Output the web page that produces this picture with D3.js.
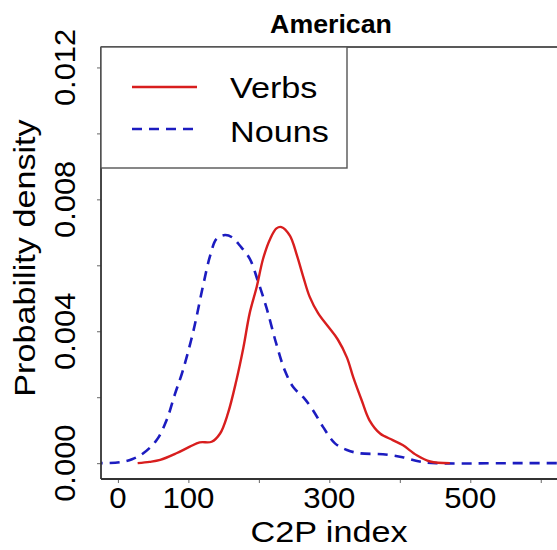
<!DOCTYPE html>
<html>
<head>
<meta charset="utf-8">
<script src="https://cdn.jsdelivr.net/npm/d3@7"></script>
<style>
  html, body { margin: 0; padding: 0; background: #fff; }
  svg { display: block; font-family: "Liberation Sans", Arial, sans-serif; }
</style>
</head>
<body>
<svg id="chart" width="557" height="550"></svg>
<script>
// ---- data ----
const chartTitle = "American";
const xTitle = "C2P index";
const yTitle = "Probability density";
const seriesNames = ["Verbs", "Nouns"];

const verbsX = [28, 45, 60, 83, 102, 116, 133, 145, 156, 168, 178, 187, 197, 206, 216, 225, 232, 244, 254, 263, 272, 284, 298, 312, 325, 334, 346, 357, 372, 390, 404, 424, 443, 471];
const verbsY = [0, 0.00004, 0.0001, 0.0003, 0.0005, 0.00063, 0.00065, 0.0009, 0.0015, 0.0025, 0.0035, 0.00455, 0.00535, 0.0062, 0.0068, 0.00712, 0.00716, 0.0069, 0.0063, 0.00565, 0.00505, 0.00455, 0.00415, 0.00375, 0.0032, 0.0026, 0.0019, 0.0013, 0.0009, 0.0007, 0.00055, 0.00024, 0.00005, 0];

const nounsX = [-60, -25, 3, 20, 36, 55, 69, 81, 92, 107, 121, 131, 140, 152, 162, 173, 187, 199, 211, 225, 237, 249, 263, 277, 291, 308, 325, 343, 376, 404, 428, 452, 560, 700];
const nounsY = [0, 0, 0.00003, 0.00012, 0.0003, 0.0007, 0.0013, 0.0021, 0.0028, 0.004, 0.0054, 0.0063, 0.0068, 0.00692, 0.00685, 0.0066, 0.0062, 0.0055, 0.0047, 0.0036, 0.0028, 0.0023, 0.002, 0.0016, 0.0011, 0.0006, 0.0004, 0.0003, 0.00027, 0.00018, 0.00005, 0, 0, 0];

const xTickMarks = [0, 100, 200, 300, 400, 500, 600];
const xTickLabels = [0, 100, 300, 500];
const yTickMarks = [0, 0.002, 0.004, 0.006, 0.008, 0.010, 0.012];
const yTickLabels = ["0.000", "0.004", "0.008", "0.012"];
const yTickLabelValues = [0, 0.004, 0.008, 0.012];

const colors = { Verbs: "#d81e1e", Nouns: "#1c1cc0" };

// ---- layout ----
const svg = d3.select("#chart");
const pLeft = 101, pTop = 47, pBottom = 479, pRight = 576;

const x = d3.scaleLinear().domain([-24, 650]).range([pLeft, pRight]);
const y = d3.scaleLinear().domain([-0.00048, 0.01262]).range([pBottom, pTop]);

svg.append("defs").append("clipPath").attr("id", "plotclip")
  .append("rect").attr("x", pLeft).attr("y", pTop)
  .attr("width", pRight - pLeft).attr("height", pBottom - pTop);

// stretched text helper
function label(g, txt, tx, ty, opts) {
  const o = Object.assign({ size: 30, sx: 1.0, rot: 0, anchor: "middle", weight: "normal" }, opts || {});
  let tr = `translate(${tx},${ty})`;
  if (o.rot) tr += ` rotate(${o.rot})`;
  tr += ` scale(${o.sx},1)`;
  return g.append("text")
    .attr("transform", tr)
    .attr("text-anchor", o.anchor)
    .attr("font-size", o.size)
    .attr("font-weight", o.weight)
    .attr("fill", "#000")
    .text(txt);
}

// curves
const line = d3.line()
  .x(d => x(d[0]))
  .y(d => y(d[1]))
  .curve(d3.curveCatmullRom.alpha(0.5));

const plot = svg.append("g").attr("clip-path", "url(#plotclip)");

plot.append("path")
  .datum(nounsX.map((v, i) => [v, nounsY[i]]))
  .attr("d", line)
  .attr("fill", "none")
  .attr("stroke", colors.Nouns)
  .attr("stroke-width", 2.6)
  .attr("stroke-dasharray", "10,7");

plot.append("path")
  .datum(verbsX.map((v, i) => [v, verbsY[i]]))
  .attr("d", line)
  .attr("fill", "none")
  .attr("stroke", colors.Verbs)
  .attr("stroke-width", 2.4);

// axes ticks
const xAxis = d3.axisBottom(x).tickValues(xTickMarks).tickSize(4).tickSizeOuter(0).tickFormat("");
const gx = svg.append("g").attr("transform", `translate(0,${pBottom})`).call(xAxis);
gx.select(".domain").remove();
gx.selectAll(".tick line").attr("stroke", "#666").attr("stroke-width", 1);

const yAxis = d3.axisLeft(y).tickValues(yTickMarks).tickSize(4).tickSizeOuter(0).tickFormat("");
const gy = svg.append("g").attr("transform", `translate(${pLeft},0)`).call(yAxis);
gy.select(".domain").remove();
gy.selectAll(".tick line").attr("stroke", "#666").attr("stroke-width", 1);

// frame lines
svg.append("line").attr("x1", pLeft).attr("x2", 557).attr("y1", pTop).attr("y2", pTop)
  .attr("stroke", "#222").attr("stroke-width", 1.5);
svg.append("line").attr("x1", pLeft).attr("x2", 557).attr("y1", pBottom).attr("y2", pBottom)
  .attr("stroke", "#333").attr("stroke-width", 1.8);
svg.append("line").attr("x1", pLeft).attr("x2", pLeft).attr("y1", pTop).attr("y2", pBottom)
  .attr("stroke", "#333").attr("stroke-width", 1.8);

// tick labels
const tl = svg.append("g");
xTickLabels.forEach(v => label(tl, String(v), x(v), 508, { sx: 1.04 }));
yTickLabelValues.forEach((v, i) => label(tl, yTickLabels[i], 75, y(v), { rot: -90, sx: 1.03 }));

// titles
label(svg, xTitle, 329, 542, { sx: 1.14 });
label(svg, yTitle, 35, 258, { rot: -90, sx: 1.14 });
label(svg, chartTitle, 331, 33, { size: 25, sx: 1.07, weight: "bold" });

// legend
const lg = svg.append("g");
lg.append("rect").attr("x", pLeft).attr("y", pTop).attr("width", 347 - pLeft).attr("height", 168 - pTop)
  .attr("fill", "#fff").attr("stroke", "#555").attr("stroke-width", 1.4);
const legRows = [
  { name: seriesNames[0], ly: 87, ty: 98, dash: null, w: 2.4 },
  { name: seriesNames[1], ly: 129, ty: 142, dash: "10,7", w: 2.4 }
];
legRows.forEach(r => {
  const l = lg.append("line").attr("x1", 132).attr("x2", 197).attr("y1", r.ly).attr("y2", r.ly)
    .attr("stroke", colors[r.name]).attr("stroke-width", r.w);
  if (r.dash) l.attr("stroke-dasharray", r.dash);
  label(lg, r.name, 230, r.ty, { anchor: "start", sx: 1.14 });
});
</script>
</body>
</html>
